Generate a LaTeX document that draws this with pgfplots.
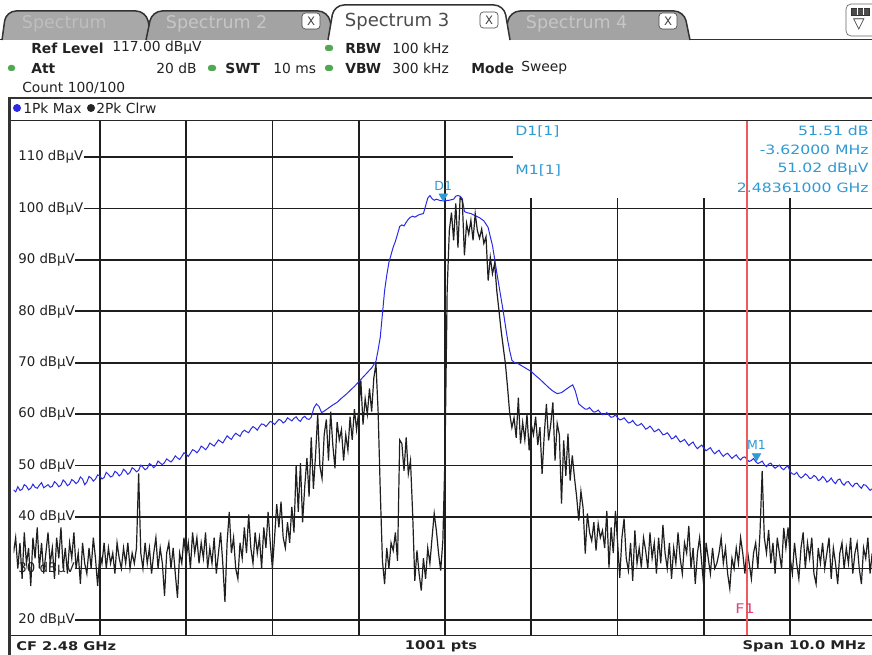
\documentclass[border=0pt]{standalone}
\usepackage{pgfplots}
\pgfplotsset{compat=1.18}
\usepackage{fontspec}
\usepackage{graphicx}
\setmainfont{DejaVu Sans}
\definecolor{mk}{HTML}{2E9AD6}
\definecolor{bl}{HTML}{2B2BE6}
\definecolor{gridc}{HTML}{1E1E1E}
\definecolor{tabg}{HTML}{A3A3A3}
\definecolor{tabt}{HTML}{C6C6C6}
\definecolor{grn}{HTML}{52A852}
\definecolor{fred}{HTML}{F05A5A}
\definecolor{fpink}{HTML}{E2457A}
\definecolor{txt}{HTML}{222222}
\newcommand{\fs}[1]{\fontsize{#1}{#1}\selectfont}
\begin{document}
\begin{tikzpicture}
\useasboundingbox (0,0) rectangle (523.2pt,-393pt);
\clip (0,0) rectangle (523.2pt,-393pt);
\begin{scope}[x=0.6pt,y=-0.6pt]
\fill[white] (0,0) rectangle (872,655);
% tabs
\draw[fill=tabg!95, draw=black!80, line width=0.9pt, rounded corners=6] (2,40) -- (6,11) -- (146,11) -- (152,40);
\node[text=tabg!70!white, font=\fs{10.5}, anchor=west] at (16,24) {Spectrum};
\draw[fill=tabg, draw=black!80, line width=0.9pt, rounded corners=6] (146,40) -- (152,11) -- (328,11) -- (334,40);
\node[text=tabt, font=\fs{10.5}, anchor=west] at (160,24) {Spectrum 2};
\draw[fill=white, draw=black!70, rounded corners=2] (302,13) rectangle (320,29);
\node[text=black!75, font=\fs{7}] at (311,21) {X};
\draw[fill=tabg, draw=black!80, line width=0.9pt, rounded corners=6] (504,40) -- (510,11) -- (684,11) -- (690,40);
\node[text=tabt, font=\fs{10.5}, anchor=west] at (520,24) {Spectrum 4};
\draw[fill=white, draw=black!70, rounded corners=2] (659,13) rectangle (677,29);
\node[text=black!75, font=\fs{7}] at (668,21) {X};
\draw[fill=white, draw=black!80, line width=0.9pt, rounded corners=6] (328,40) -- (334,5) -- (504,5) -- (510,40);
\fill[white] (329.5,38) rectangle (508.5,42);
\node[text=black!70, font=\fs{10.8}, anchor=west] at (339,22) {Spectrum 3};
\draw[fill=white, draw=black!70, rounded corners=2] (480,12) rectangle (498,28);
\node[text=black!75, font=\fs{7}] at (489,20) {X};
\draw[black!80, line width=0.9pt] (690,39.5) -- (872,39.5);
\draw[black!80, line width=0.9pt] (0,39.5) -- (2,39.5);
% top right icon
\draw[fill=white, draw=black!60, rounded corners=3] (846,4) rectangle (880,36);
\draw[black!80, fill=black!70] (851,8) rectangle (869,15);
\draw[white, line width=0.5pt] (857,8) -- (857,15) (863,8) -- (863,15);
\node[text=black!80, font=\fs{9}] at (859,25) {▽};
% header
\begin{scope}[every node/.style={anchor=west, inner sep=0pt, text=txt, font=\fs{8.3}}]
\node at (31,48) {\textbf{Ref Level}};
\node at (112,48) {117.00 dBµV};
\fill[grn, rounded corners=1.5] (325,45) rectangle (333,51);
\node at (345,48) {\textbf{RBW}};
\node at (392,48) {100 kHz};
\fill[grn, rounded corners=1.5] (8,65) rectangle (15,71);
\node at (31,68) {\textbf{Att}};
\node[anchor=east] at (197,68) {20 dB};
\fill[grn, rounded corners=1.5] (208,65) rectangle (216,71);
\node at (225,68) {\textbf{SWT}};
\node at (273,68) {10 ms};
\fill[grn, rounded corners=1.5] (325,65) rectangle (333,71);
\node at (345,68) {\textbf{VBW}};
\node at (392,68) {300 kHz};
\node at (471,68) {\textbf{Mode}};
\node at (521,68) {Sweep};
\node at (22,88) {Count 100/100};
\node at (23,108) {1Pk Max};
\node at (96,108) {2Pk Clrw};
\end{scope}
\fill[bl] (17,108) circle (4);
\fill[black!85] (91,108) circle (4);
% panel lines
\draw[black!80, line width=1.2pt] (8,98) -- (872,98);
\end{scope}

\begin{axis}[at={(8.1pt,-381.24pt)}, anchor=south west, scale only axis,
  width=517.8pt, height=308.64pt, xmin=-5, xmax=5, ymin=17, ymax=117,
  xtick=\empty, ytick=\empty, axis line style={draw=none}, clip=true]
% vertical grid
\draw[gridc, line width=1pt] (axis cs:-4,17) -- (axis cs:-4,117);
\draw[gridc, line width=1pt] (axis cs:-3,17) -- (axis cs:-3,117);
\draw[gridc, line width=1pt] (axis cs:-2,17) -- (axis cs:-2,117);
\draw[gridc, line width=1pt] (axis cs:-1,17) -- (axis cs:-1,117);
\draw[gridc, line width=1pt] (axis cs:0,17) -- (axis cs:0,117);
\draw[gridc, line width=1pt] (axis cs:1,17) -- (axis cs:1,102.1);
\draw[gridc, line width=1pt] (axis cs:2,17) -- (axis cs:2,102.1);
\draw[gridc, line width=1pt] (axis cs:3,17) -- (axis cs:3,102.1);
\draw[gridc, line width=1pt] (axis cs:4,17) -- (axis cs:4,102.1);
% level labels and horizontal grid
\node[anchor=west, inner sep=0pt, font=\fs{8}, text=txt] (a110) at (axis cs:-4.948,110) {110 dBµV};
\draw[gridc, line width=1pt] (a110.east) -- (axis cs:0.788,110);
\node[anchor=west, inner sep=0pt, font=\fs{8}, text=txt] (a100) at (axis cs:-4.948,100) {100 dBµV};
\draw[gridc, line width=1pt] (a100.east) -- (axis cs:5,100);
\node[anchor=west, inner sep=0pt, font=\fs{8}, text=txt] (a90) at (axis cs:-4.948,90) {90 dBµV};
\draw[gridc, line width=1pt] (a90.east) -- (axis cs:5,90);
\node[anchor=west, inner sep=0pt, font=\fs{8}, text=txt] (a80) at (axis cs:-4.948,80) {80 dBµV};
\draw[gridc, line width=1pt] (a80.east) -- (axis cs:5,80);
\node[anchor=west, inner sep=0pt, font=\fs{8}, text=txt] (a70) at (axis cs:-4.948,70) {70 dBµV};
\draw[gridc, line width=1pt] (a70.east) -- (axis cs:5,70);
\node[anchor=west, inner sep=0pt, font=\fs{8}, text=txt] (a60) at (axis cs:-4.948,60) {60 dBµV};
\draw[gridc, line width=1pt] (a60.east) -- (axis cs:5,60);
\node[anchor=west, inner sep=0pt, font=\fs{8}, text=txt] (a50) at (axis cs:-4.948,50) {50 dBµV};
\draw[gridc, line width=1pt] (a50.east) -- (axis cs:5,50);
\node[anchor=west, inner sep=0pt, font=\fs{8}, text=txt] (a40) at (axis cs:-4.948,40) {40 dBµV};
\draw[gridc, line width=1pt] (a40.east) -- (axis cs:5,40);
\node[anchor=west, inner sep=0pt, font=\fs{8}, text=txt] (a30) at (axis cs:-4.948,30) {30 dBµV};
\draw[gridc, line width=1pt] (a30.east) -- (axis cs:5,30);
\node[anchor=west, inner sep=0pt, font=\fs{8}, text=txt] (a20) at (axis cs:-4.948,20) {20 dBµV};
\draw[gridc, line width=1pt] (a20.east) -- (axis cs:5,20);
% trace 1: Pk Max (blue)
\addplot[bl, line width=0.6pt] coordinates {
(-5,45.3)(-4.975,44.9)(-4.95,45.9)(-4.925,45.2)(-4.9,45.4)(-4.875,46.3)(-4.85,46.0)(-4.825,45.3)
(-4.8,45.6)(-4.775,46.4)(-4.75,45.8)(-4.725,45.6)(-4.7,46.2)(-4.675,46.7)(-4.65,45.7)(-4.625,46.0)
(-4.6,46.3)(-4.575,45.8)(-4.55,46.0)(-4.525,46.9)(-4.5,46.5)(-4.475,45.9)(-4.45,46.2)(-4.425,47.2)
(-4.4,46.8)(-4.375,46.1)(-4.35,46.4)(-4.325,47.3)(-4.3,47.0)(-4.275,46.5)(-4.25,46.9)(-4.225,47.8)
(-4.2,47.4)(-4.175,46.3)(-4.15,46.8)(-4.125,47.9)(-4.1,47.6)(-4.075,47.0)(-4.05,47.4)(-4.025,48.2)
(-4,48.0)(-3.975,47.4)(-3.95,47.7)(-3.925,48.7)(-3.9,48.3)(-3.875,47.8)(-3.85,48.0)(-3.825,48.9)
(-3.8,48.6)(-3.775,48.0)(-3.75,48.4)(-3.725,49.3)(-3.7,48.9)(-3.675,48.3)(-3.65,48.7)(-3.625,49.6)
(-3.6,49.3)(-3.575,48.8)(-3.55,49.1)(-3.525,50.1)(-3.5,49.7)(-3.475,49.2)(-3.45,49.5)(-3.425,50.4)
(-3.4,50.1)(-3.375,49.6)(-3.35,50.0)(-3.325,50.9)(-3.3,50.5)(-3.275,50.2)(-3.25,50.6)(-3.225,51.3)
(-3.2,51.0)(-3.175,50.7)(-3.15,51.2)(-3.125,51.9)(-3.1,51.5)(-3.075,51.2)(-3.05,51.8)(-3.025,52.5)
(-3,52.2)(-2.975,51.8)(-2.95,52.4)(-2.925,53.1)(-2.9,52.9)(-2.875,52.5)(-2.85,53.0)(-2.825,53.8)
(-2.8,53.5)(-2.775,53.1)(-2.75,53.6)(-2.725,54.4)(-2.7,54.1)(-2.675,53.8)(-2.65,54.4)(-2.625,55.0)
(-2.6,54.7)(-2.575,54.4)(-2.55,55.1)(-2.525,55.8)(-2.5,55.4)(-2.475,55.1)(-2.45,55.8)(-2.425,56.3)
(-2.4,56.0)(-2.375,55.7)(-2.35,56.5)(-2.325,56.9)(-2.3,56.6)(-2.275,56.4)(-2.25,57.1)(-2.225,57.6)
(-2.2,57.3)(-2.175,56.9)(-2.15,57.6)(-2.125,58.1)(-2.1,58.0)(-2.075,57.6)(-2.05,58.1)(-2.025,58.6)
(-2,58.4)(-1.975,58.0)(-1.95,58.5)(-1.925,59.0)(-1.9,58.8)(-1.875,58.3)(-1.85,58.6)(-1.825,59.3)
(-1.8,59.0)(-1.775,58.7)(-1.75,59.2)(-1.725,59.5)(-1.7,58.9)(-1.675,58.6)(-1.65,59.3)(-1.625,59.6)
(-1.6,59.1)(-1.575,59.0)(-1.55,59.4)(-1.52,61.2)(-1.49,62.0)
(-1.46,61.5)(-1.43,60.3)(-1.4,60.6)(-1.35,61.2)(-1.3,61.8)(-1.25,62.3)(-1.2,63.1)(-1.15,63.8)
(-1.1,64.6)(-1.05,65.4)(-1,66.3)(-0.95,67.2)(-0.9,68.1)(-0.85,69.0)(-0.8,70.3)(-0.775,72.5)
(-0.75,75.0)(-0.725,79.5)(-0.7,84.0)(-0.675,87.0)(-0.65,89.5)(-0.625,91.0)(-0.6,92.5)(-0.575,93.6)
(-0.55,95.0)(-0.525,96.5)(-0.5,96.8)(-0.475,96.6)(-0.45,97.3)(-0.425,97.9)(-0.4,98.3)(-0.375,98.5)
(-0.35,98.3)(-0.3,98.8)(-0.25,99.0)(-0.225,100.5)(-0.2,102.0)(-0.175,102.5)(-0.15,101.9)(-0.125,101.6)
(-0.1,101.8)(-0.05,101.5)(0,101.5)(0.05,101.6)(0.1,101.8)(0.125,102.4)(0.15,102.5)(0.175,102.4)
(0.2,101.9)(0.225,99.4)(0.25,99.2)(0.3,99.0)(0.35,98.6)(0.4,98.2)(0.45,97.6)(0.5,96.3)
(0.525,94.5)(0.55,92.8)(0.575,90.2)(0.6,87.5)(0.625,85.0)(0.65,82.5)(0.675,80.0)(0.7,77.2)
(0.725,74.5)(0.75,72.3)(0.775,70.5)(0.8,70.1)(0.85,69.8)(0.9,69.3)(0.95,68.8)(1,68.3)
(1.05,67.5)(1.1,66.8)(1.15,66.0)(1.2,65.2)(1.25,64.5)(1.3,64.0)(1.35,64.2)(1.4,64.8)
(1.45,65.4)(1.48,65.7)(1.51,64.5)(1.55,62.0)
(1.6,61.3)(1.625,61.0)(1.65,61.0)(1.675,61.3)(1.7,60.8)(1.725,60.4)(1.75,60.5)(1.775,60.8)
(1.8,60.3)(1.825,59.9)(1.85,60.0)(1.875,60.3)(1.9,59.8)(1.925,59.4)(1.95,59.5)(1.975,59.9)
(2,59.3)(2.025,58.9)(2.05,59.0)(2.075,59.3)(2.1,58.8)(2.125,58.3)(2.15,58.4)(2.175,58.8)
(2.2,58.2)(2.225,57.8)(2.25,57.9)(2.275,58.2)(2.3,57.7)(2.325,57.1)(2.35,57.3)(2.375,57.7)
(2.4,57.2)(2.425,56.6)(2.45,56.8)(2.475,57.1)(2.5,56.6)(2.525,56.0)(2.55,56.1)(2.575,56.4)
(2.6,55.9)(2.625,55.2)(2.65,55.4)(2.675,55.8)(2.7,55.2)(2.725,54.6)(2.75,54.8)(2.775,55.1)
(2.8,54.5)(2.825,53.9)(2.85,54.3)(2.875,54.6)(2.9,53.8)(2.925,53.3)(2.95,53.7)(2.975,54.0)
(3,53.4)(3.025,52.9)(3.05,53.2)(3.075,53.5)(3.1,52.8)(3.125,52.3)(3.15,52.7)(3.175,53.0)
(3.2,52.3)(3.225,51.8)(3.25,52.2)(3.275,52.4)(3.3,51.9)(3.325,51.4)(3.35,51.8)(3.375,52.1)
(3.4,51.5)(3.425,51.1)(3.45,51.6)(3.475,51.7)(3.5,51.2)(3.525,50.8)(3.55,51.0)(3.575,51.4)
(3.6,50.8)(3.625,50.4)(3.65,50.6)(3.675,50.9)(3.7,50.2)(3.725,49.8)(3.75,50.3)(3.775,50.5)
(3.8,49.9)(3.825,49.5)(3.85,49.8)(3.875,50.1)(3.9,49.5)(3.925,49.2)(3.95,49.7)(3.975,49.9)
(4,48.8)(4.025,48.4)(4.05,48.3)(4.075,48.7)(4.1,48.0)(4.125,47.6)(4.15,47.9)(4.175,48.4)
(4.2,48.1)(4.225,47.5)(4.25,47.6)(4.275,48.1)(4.3,47.8)(4.325,47.1)(4.35,47.3)(4.375,47.9)
(4.4,47.5)(4.425,46.8)(4.45,47.1)(4.475,47.6)(4.5,46.9)(4.525,46.5)(4.55,47.2)(4.575,47.4)
(4.6,46.6)(4.625,46.2)(4.65,46.8)(4.675,46.9)(4.7,46.3)(4.725,45.9)(4.75,46.5)(4.775,46.6)
(4.8,46.0)(4.825,45.6)(4.85,46.3)(4.875,46.2)(4.9,45.7)(4.925,45.2)(4.95,45.5)(4.975,45.8)(5,45.3)
};
% trace 2: Clear/Write (black)
\addplot[black!88, line width=0.72pt] coordinates {
(-5,33)(-4.975,36)(-4.95,30)(-4.925,35)(-4.9,28)(-4.875,37)(-4.85,31)(-4.825,34)
(-4.8,26.6)(-4.775,36)(-4.75,32)(-4.725,38)(-4.7,30)(-4.675,35)(-4.65,29)(-4.625,33)
(-4.6,37)(-4.575,31)(-4.55,34)(-4.525,28)(-4.5,36)(-4.475,32)(-4.45,38)(-4.425,30)
(-4.4,34)(-4.375,29)(-4.35,35)(-4.325,32)(-4.3,37)(-4.275,30)(-4.25,33)(-4.225,27)
(-4.2,35)(-4.175,31)(-4.15,29)(-4.125,34)(-4.1,30)(-4.075,36)(-4.05,32)(-4.025,26.6)
(-4,33)(-3.975,31)(-3.95,35)(-3.925,30)(-3.9,34)(-3.875,31)(-3.85,33)(-3.825,29)
(-3.8,35)(-3.775,32)(-3.75,30)(-3.725,34)(-3.7,31)(-3.675,35)(-3.65,30)(-3.625,33)
(-3.6,31)(-3.575,34)(-3.55,48.5)(-3.525,33)(-3.5,30)(-3.475,35)(-3.45,31)(-3.425,34)
(-3.4,29)(-3.375,33)(-3.35,36)(-3.325,30)(-3.3,34)(-3.275,31)(-3.25,24.7)(-3.225,33)
(-3.2,35)(-3.175,30)(-3.15,34)(-3.125,29)(-3.1,24.3)(-3.075,33)(-3.05,31)(-3.025,36)
(-3,32)(-2.975,35)(-2.95,30)(-2.925,37)(-2.9,33)(-2.875,36)(-2.85,31)(-2.825,35)
(-2.8,32)(-2.775,37)(-2.75,30)(-2.725,34)(-2.7,31)(-2.675,36)(-2.65,29)(-2.625,33)
(-2.6,37)(-2.575,31)(-2.55,23.5)(-2.525,35)(-2.5,41)(-2.475,33)(-2.45,36)(-2.425,30)
(-2.4,28)(-2.375,35)(-2.35,32)(-2.325,38)(-2.3,33)(-2.275,40.5)(-2.25,34)(-2.225,31)
(-2.2,37)(-2.175,33)(-2.15,36)(-2.125,30)(-2.1,38)(-2.075,34)(-2.05,41)(-2.025,35)
(-2,30)(-1.975,36)(-1.95,42.5)(-1.925,38)(-1.9,43)(-1.875,36)(-1.85,34)(-1.825,39)
(-1.8,35)(-1.775,42)(-1.75,37)(-1.725,50)(-1.7,41)(-1.675,50.5)(-1.65,39)(-1.625,46)
(-1.6,51.5)(-1.575,44)(-1.55,55.5)(-1.525,45.5)(-1.5,52)(-1.475,60)(-1.45,50)(-1.425,47.5)
(-1.4,56)(-1.375,59)(-1.35,51)(-1.325,60.5)(-1.3,54)(-1.275,49.5)(-1.25,58.5)(-1.225,55)
(-1.2,57)(-1.175,51)(-1.15,56)(-1.125,53)(-1.1,59.5)(-1.075,55)(-1.05,61)(-1.025,57)
(-1,60.5)(-0.975,66.5)(-0.95,58)(-0.925,63)(-0.9,60)(-0.875,65)(-0.85,60.5)(-0.825,67)
(-0.8,69.8)(-0.775,60.5)(-0.75,45)(-0.725,31.5)(-0.7,27)(-0.675,34)(-0.65,30)(-0.625,35)
(-0.6,33.5)(-0.575,37)(-0.55,31.5)(-0.525,55)(-0.5,54.3)(-0.475,49)(-0.45,55.5)(-0.425,48.4)
(-0.4,51)(-0.375,40.7)(-0.35,27.6)(-0.325,33.5)(-0.3,29)(-0.275,25.7)(-0.25,32)(-0.225,28)
(-0.2,34)(-0.175,31)(-0.15,36)(-0.125,40.7)(-0.1,37.4)(-0.075,33)(-0.05,29.6)(-0.025,35.4)
(0,52)(0.025,84)(0.05,95.7)(0.075,99.2)(0.1,93.8)(0.125,101)(0.15,92.4)(0.175,102.1)
(0.2,101.6)(0.225,90.9)(0.25,97.1)(0.275,95)(0.3,97.7)(0.325,93.8)(0.35,99)(0.375,95.7)
(0.4,94.2)(0.425,96)(0.45,93.2)(0.475,94.5)(0.5,86)(0.525,90.5)(0.55,87.3)(0.575,89.3)
(0.6,84)(0.625,80.2)(0.65,76.3)(0.675,73)(0.7,69.8)(0.725,65.2)(0.75,60.1)(0.775,57.4)
(0.8,59.3)(0.825,55.4)(0.85,63.2)(0.875,54.3)(0.9,58.4)(0.925,55)(0.95,60)(0.975,53)
(1,58)(1.025,56)(1.05,59.5)(1.075,54)(1.1,57.5)(1.125,48.4)(1.15,56)(1.175,62)
(1.2,54.9)(1.225,58)(1.25,62.3)(1.275,51)(1.3,58.2)(1.325,56)(1.35,42.6)(1.375,54.9)
(1.4,48)(1.425,56.2)(1.45,47.1)(1.475,52)(1.5,47.7)(1.525,44)(1.55,39.3)(1.575,45)
(1.6,41.8)(1.625,32.9)(1.65,40.7)(1.675,37)(1.7,35.4)(1.725,39)(1.75,33.5)(1.775,38.7)
(1.8,36)(1.825,37.4)(1.85,34)(1.875,41.2)(1.9,30.2)(1.925,38)(1.95,33)(1.975,41.2)
(2,35)(2.025,28.2)(2.05,36)(2.075,39.7)(2.1,32)(2.125,29.6)(2.15,35)(2.175,27.6)
(2.2,37.4)(2.225,31)(2.25,34)(2.275,30.2)(2.3,36)(2.325,33.5)(2.35,30)(2.375,37)
(2.4,32)(2.425,35)(2.45,29)(2.475,36)(2.5,31)(2.525,38.5)(2.55,33)(2.575,30)
(2.6,35)(2.625,28)(2.65,34)(2.675,31)(2.7,37)(2.725,32)(2.75,29)(2.775,35)
(2.8,33)(2.825,38.3)(2.85,30)(2.875,34)(2.9,27)(2.925,33)(2.95,36)(2.975,31)
(3,26.3)(3.025,35)(3.05,32)(3.075,29)(3.1,34)(3.125,30)(3.15,31)(3.175,33)
(3.2,36)(3.225,31)(3.25,34)(3.275,29)(3.3,26.1)(3.325,32)(3.35,30)(3.375,34)
(3.4,31)(3.425,36)(3.45,33)(3.475,29)(3.5,34)(3.525,31)(3.55,28)(3.575,33)
(3.6,35)(3.625,30)(3.65,37)(3.675,49)(3.7,36)(3.725,33)(3.75,37.5)(3.775,31)
(3.8,35)(3.825,29)(3.85,36)(3.875,33)(3.9,30)(3.925,37.9)(3.95,34)(3.975,38)
(4,32)(4.025,29)(4.05,35)(4.075,31)(4.1,28)(4.125,34)(4.15,37)(4.175,30)
(4.2,35)(4.225,32)(4.25,36)(4.275,29)(4.3,27)(4.325,34)(4.35,31)(4.375,35)
(4.4,30)(4.425,33)(4.45,36)(4.475,28)(4.5,34)(4.525,31)(4.55,27)(4.575,33)
(4.6,35)(4.625,30)(4.65,34)(4.675,31)(4.7,36)(4.725,29)(4.75,33)(4.775,35)
(4.8,30)(4.825,27)(4.85,34)(4.875,32)(4.9,36)(4.925,29)(4.95,33)(4.975,28)(5,34)
};
% frequency line F1
\draw[fred, line width=1pt] (axis cs:3.5,17) -- (axis cs:3.5,117);
% markers
\addplot[only marks, mark=triangle*, mark size=2.9pt, color=mk,
  mark options={yshift=2.6pt, rotate=180},
  nodes near coords, point meta=explicit symbolic,
  nodes near coords style={text=mk, font=\fs{7.5}, anchor=south, yshift=3.5pt, inner sep=0pt}]
  table[meta=label] {
x y label
-0.02 101.5 D1
3.61 51.02 M1
};
\end{axis}

\begin{scope}[x=0.6pt,y=-0.6pt]
% frame lines
\draw[black!85, line width=0.9pt] (9,120.5) -- (872,120.5);
\draw[black!85, line width=0.9pt] (9,635.6) -- (872,635.6);
\draw[black!80, line width=2.2pt] (9.5,97) -- (9.5,655);
% marker info
\begin{scope}[every node/.style={inner sep=0pt, text=mk}]
\node[anchor=west] at (515,131) {\scalebox{1.22}[1]{\fs{7.7}D1[1]}};
\node[anchor=west] at (515,170) {\scalebox{1.22}[1]{\fs{7.7}M1[1]}};
\node[anchor=east] at (869,131) {\scalebox{1.22}[1]{\fs{7.7}51.51 dB}};
\node[anchor=east] at (869,150) {\scalebox{1.22}[1]{\fs{7.7}-3.62000 MHz}};
\node[anchor=east] at (869,169) {\scalebox{1.22}[1]{\fs{7.7}51.02 dBµV}};
\node[anchor=east] at (869,188) {\scalebox{1.22}[1]{\fs{7.7}2.48361000 GHz}};
\end{scope}
\node[text=fpink, inner sep=0pt] at (745,609) {\scalebox{1.2}[1]{\fs{8}F1}};
% bottom status bar
\begin{scope}[every node/.style={inner sep=0pt, text=txt}]
\node[anchor=west] at (16,646) {\scalebox{1.22}[1]{\fs{7.2}\bfseries CF 2.48 GHz}};
\node at (441,646) {\scalebox{1.22}[1]{\fs{7.2}\bfseries 1001 pts}};
\node[anchor=east] at (866,646) {\scalebox{1.22}[1]{\fs{7.2}\bfseries Span 10.0 MHz}};
\end{scope}
\end{scope}
\end{tikzpicture}
\end{document}
